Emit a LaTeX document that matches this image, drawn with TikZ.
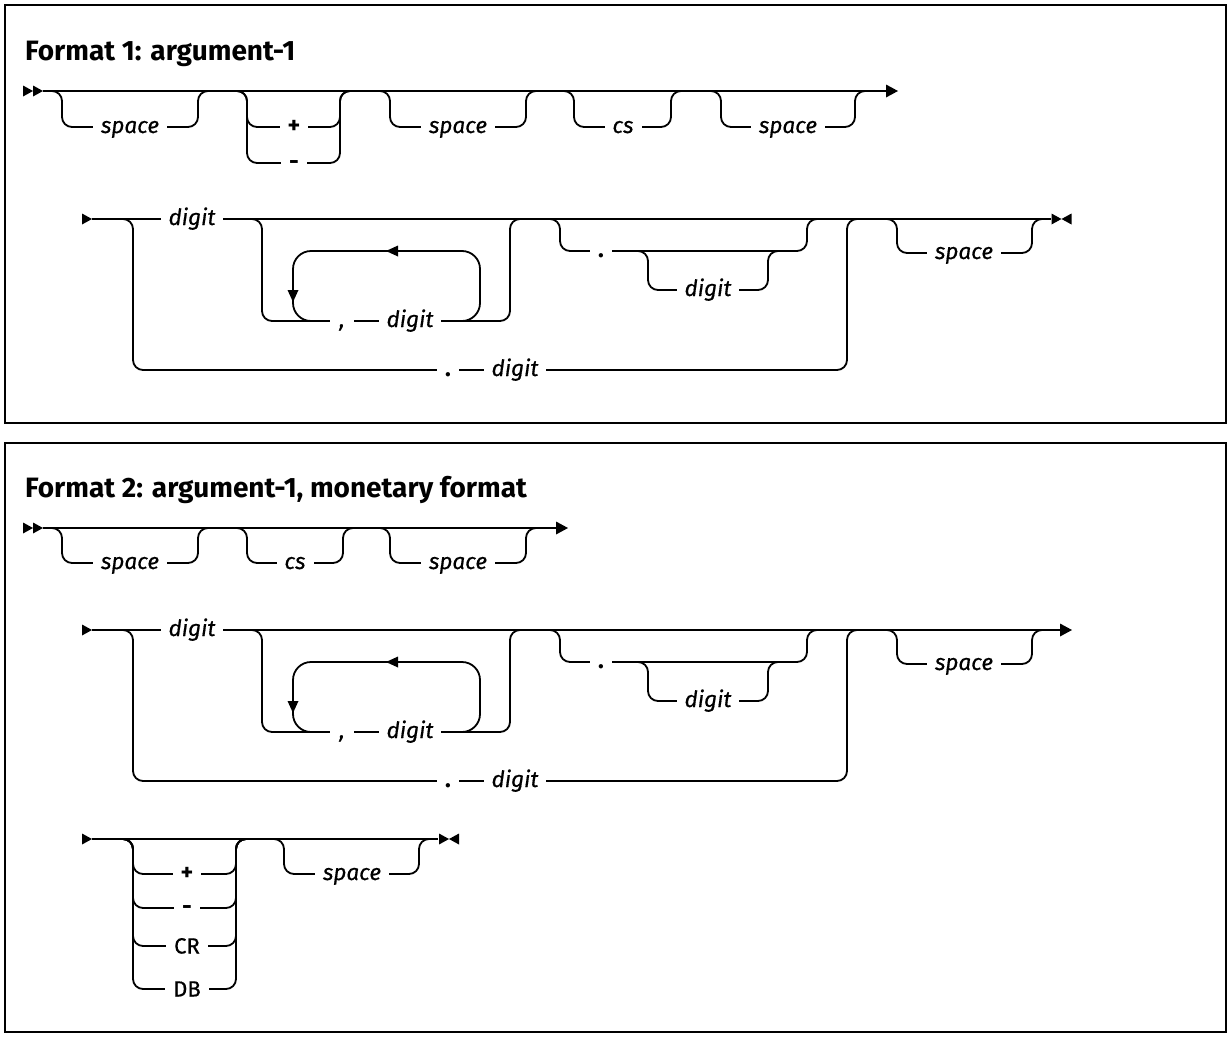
\documentclass[tikz,border=0pt]{standalone}
\usepackage{fontspec}
\setmainfont{Fira Sans}
\newfontfamily\labfont{Fira Sans}[FakeBold=0.6]
\newcommand\railopt[4]{\draw[rail,rounded corners=10] (#1-12,#3) -- (#1,#3) -- (#1,#4) -- (#2,#4) -- (#2,#3) -- (#2+12,#3);}
\newcommand\rtri[2]{\fill (#1-10,#2-5.5) -- (#1,#2) -- (#1-10,#2+5.5) -- cycle;}
\newcommand\ltri[2]{\fill (#1+10,#2-5.5) -- (#1,#2) -- (#1+10,#2+5.5) -- cycle;}
\begin{document}
\begin{tikzpicture}[x=1pt,y=-1pt,
  rail/.style={line width=1.8pt},
  frame/.style={line width=2.4pt},
  mask/.style={fill=white,anchor=base,inner xsep=8pt,inner ysep=0pt,text height=15pt,text depth=5pt},
  lab/.style={mask,yshift=-6pt,font=\fontsize{22.5}{22.5}\labfont\itshape},
  sym/.style={mask,yshift=-6.5pt,inner xsep=8pt,font=\fontsize{24}{24}\selectfont\bfseries},
  caplab/.style={mask,yshift=-7.5pt,font=\fontsize{22}{22}\labfont},
  ttl/.style={anchor=base west,inner sep=0pt,font=\fontsize{28}{28}\selectfont\bfseries}]
\useasboundingbox (0,0) rectangle (1228,1036);
% frames
\draw[frame] (5,5) rectangle (1226,423);
\draw[frame] (5,443) rectangle (1226,1032);
\node[ttl] (t1) at (25,60) {Format 1: argument-1};
\node[ttl] (t2) at (25,497) {Format 2: argument-1, monetary format};

% ===== Panel 1, row 1 =====
\draw[rail] (43,91) -- (886,91);
\fill (886,84.5) -- (898,91) -- (886,97.5) -- cycle;
\rtri{33}{91}\rtri{43}{91}
\railopt{62}{198}{91}{127}
\railopt{247}{340}{91}{127}
\railopt{247}{340}{91}{163}
\railopt{390}{526}{91}{127}
\railopt{574}{671}{91}{127}
\railopt{721}{855}{91}{127}
\node[lab] (a1) at (130,127) {space};
\node[sym] (a2) at (294,127) {+};
\node[sym] (a3) at (294,163) {-};
\node[lab] (a4) at (458,127) {space};
\node[lab] (a5) at (623,127) {cs};
\node[lab] (a6) at (788,127) {space};

% ===== digit rows (panel 1 at 219, panel 2 at 630) =====
\foreach \Y in {219,630}{
  \rtri{92}{\Y}
  \draw[rail,rounded corners=10] (120,\Y) -- (133,\Y) -- (133,\Y+151) -- (847,\Y+151) -- (847,\Y) -- (860,\Y);
  \draw[rail,rounded corners=10] (250,\Y) -- (262,\Y) -- (262,\Y+102) -- (510,\Y+102) -- (510,\Y) -- (522,\Y);
  \draw[rail,rounded corners=18] (450,\Y+102) -- (480,\Y+102) -- (480,\Y+32) -- (293,\Y+32) -- (293,\Y+102) -- (323,\Y+102);
  \fill (398,\Y+26.5) -- (386,\Y+32) -- (398,\Y+37.5) -- cycle;
  \fill (287.5,\Y+71) -- (293,\Y+83) -- (298.5,\Y+71) -- cycle;
  \draw[rail,rounded corners=10] (548,\Y) -- (560,\Y) -- (560,\Y+32) -- (807,\Y+32) -- (807,\Y) -- (819,\Y);
  \draw[rail,rounded corners=10] (636,\Y+32) -- (648,\Y+32) -- (648,\Y+71) -- (768,\Y+71) -- (768,\Y+32) -- (780,\Y+32);
  \draw[rail,rounded corners=10] (885,\Y) -- (897,\Y) -- (897,\Y+34) -- (1032,\Y+34) -- (1032,\Y) -- (1044,\Y);
}
\draw[rail] (92,219) -- (1051,219);
\rtri{1061.5}{219}\ltri{1061.5}{219}
\draw[rail] (92,630) -- (1061,630);
\fill (1060,623.5) -- (1072,630) -- (1060,636.5) -- cycle;
\foreach \Y/\P in {219/b,630/c}{
  \node[lab] (\P1) at (192,\Y) {digit};
  \node[lab,inner xsep=9pt] (\P2) at (342,\Y+102) {,};
  \node[lab] (\P3) at (410,\Y+102) {digit};
  \node[sym] (\P4) at (601,\Y+32) {.};
  \node[lab] (\P5) at (708,\Y+71) {digit};
  \node[sym] (\P6) at (448,\Y+151) {.};
  \node[lab] (\P7) at (515,\Y+151) {digit};
  \node[lab] (\P8) at (964,\Y+34) {space};
}

% ===== Panel 2, row 1 =====
\draw[rail] (43,528) -- (556,528);
\fill (556,521.5) -- (568,528) -- (556,534.5) -- cycle;
\rtri{33}{528}\rtri{43}{528}
\railopt{62}{198}{528}{563}
\railopt{247}{343}{528}{563}
\railopt{390}{526}{528}{563}
\node[lab] (d1) at (130,563) {space};
\node[lab] (d2) at (295,563) {cs};
\node[lab] (d3) at (458,563) {space};

% ===== Panel 2, row 3 =====
\rtri{92}{839}
\draw[rail] (92,839) -- (438,839);
\rtri{449}{839}\ltri{449}{839}
\railopt{133}{236}{839}{874}
\railopt{133}{236}{839}{908}
\railopt{133}{236}{839}{946}
\railopt{133}{236}{839}{989}
\railopt{284}{419}{839}{874}
\node[sym] (e1) at (187,874) {+};
\node[sym] (e2) at (187,908) {-};
\node[caplab] (e3) at (187,946) {CR};
\node[caplab] (e4) at (187,989) {DB};
\node[lab] (e5) at (352,874) {space};
\end{tikzpicture}
\end{document}
